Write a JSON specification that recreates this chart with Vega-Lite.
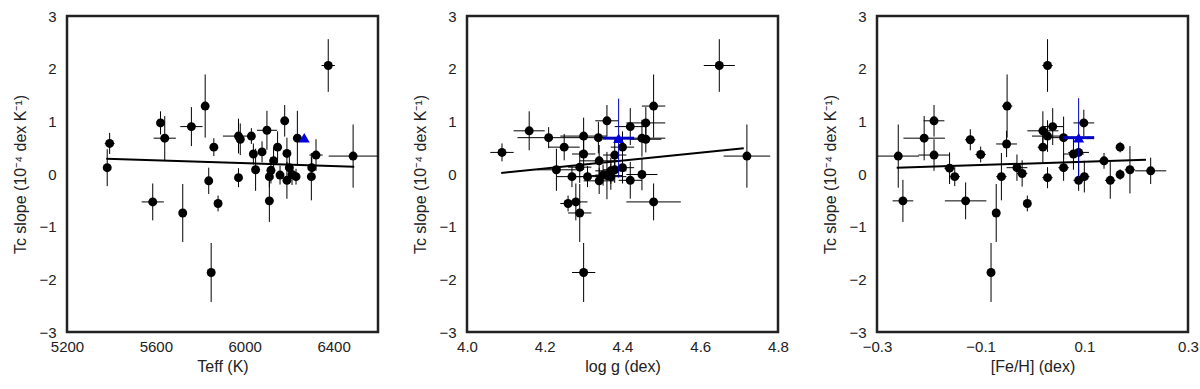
{
  "$schema": "https://vega.github.io/schema/vega-lite/v6.json",
  "padding": {"left": 11, "top": 7, "right": 5, "bottom": 5},
  "spacing": 31,
  "background": "white",
  "config": {
    "font": "Liberation Sans",
    "axis": {"labelFont": "Liberation Sans", "labelFontSize": 15, "titleFont": "Liberation Sans", "titleFontSize": 16, "titleFontWeight": "normal", "labelColor": "#222", "titleColor": "#222", "ticks": false, "domain": false, "grid": false, "labelFlush": false, "labelOverlap": false, "labelBound": false},
    "view": {"stroke": "#222", "strokeWidth": 2.5}
  },
  "datasets": {
    "teff": [
      {"k": "s", "x": 6376, "xe": 30, "y": 2.06, "ye": 0.5},
      {"k": "s", "x": 5822, "xe": 15, "y": 1.29, "ye": 0.6},
      {"k": "s", "x": 5621, "xe": 15, "y": 0.97, "ye": 0.22},
      {"k": "s", "x": 5640, "xe": 50, "y": 0.68, "ye": 0.42},
      {"k": "s", "x": 5760, "xe": 50, "y": 0.9, "ye": 0.37},
      {"k": "s", "x": 5392, "xe": 22, "y": 0.58, "ye": 0.2},
      {"k": "s", "x": 5381, "xe": 15, "y": 0.12, "ye": 0.35},
      {"k": "s", "x": 5861, "xe": 15, "y": 0.51, "ye": 0.17},
      {"k": "s", "x": 5972, "xe": 70, "y": 0.72, "ye": 0.33},
      {"k": "s", "x": 5980, "xe": 15, "y": 0.66, "ye": 0.3},
      {"k": "s", "x": 6030, "xe": 15, "y": 0.72, "ye": 0.15},
      {"k": "s", "x": 6100, "xe": 45, "y": 0.83, "ye": 0.37},
      {"k": "s", "x": 6180, "xe": 15, "y": 1.01, "ye": 0.3},
      {"k": "s", "x": 6148, "xe": 15, "y": 0.51, "ye": 0.3},
      {"k": "s", "x": 6039, "xe": 15, "y": 0.38, "ye": 0.2},
      {"k": "s", "x": 6078, "xe": 15, "y": 0.42, "ye": 0.2},
      {"k": "s", "x": 6190, "xe": 15, "y": 0.39, "ye": 0.3},
      {"k": "s", "x": 6130, "xe": 15, "y": 0.25, "ye": 0.25},
      {"k": "s", "x": 6237, "xe": 15, "y": 0.68, "ye": 0.52},
      {"k": "s", "x": 6321, "xe": 30, "y": 0.36, "ye": 0.3},
      {"k": "s", "x": 6488, "xe": 110, "y": 0.34, "ye": 0.6},
      {"k": "s", "x": 6302, "xe": 15, "y": 0.12, "ye": 0.2},
      {"k": "s", "x": 6201, "xe": 15, "y": 0.12, "ye": 0.2},
      {"k": "s", "x": 6049, "xe": 15, "y": 0.08, "ye": 0.4},
      {"k": "s", "x": 6118, "xe": 15, "y": 0.07, "ye": 0.25},
      {"k": "s", "x": 5838, "xe": 15, "y": -0.13, "ye": 0.25},
      {"k": "s", "x": 5972, "xe": 15, "y": -0.07, "ye": 0.18},
      {"k": "s", "x": 6111, "xe": 15, "y": -0.05, "ye": 0.2},
      {"k": "s", "x": 6159, "xe": 15, "y": -0.02, "ye": 0.18},
      {"k": "s", "x": 6190, "xe": 15, "y": -0.12, "ye": 0.35},
      {"k": "s", "x": 6231, "xe": 15, "y": -0.05, "ye": 0.15},
      {"k": "s", "x": 6213, "xe": 15, "y": -0.01, "ye": 0.2},
      {"k": "s", "x": 6300, "xe": 15, "y": -0.05, "ye": 0.45},
      {"k": "s", "x": 5586, "xe": 50, "y": -0.53, "ye": 0.35},
      {"k": "s", "x": 5721, "xe": 15, "y": -0.74, "ye": 0.55},
      {"k": "s", "x": 5880, "xe": 15, "y": -0.56, "ye": 0.15},
      {"k": "s", "x": 6111, "xe": 15, "y": -0.51, "ye": 0.4},
      {"k": "s", "x": 5849, "xe": 15, "y": -1.87, "ye": 0.56},
      {"k": "b", "x": 6268, "xe": 0, "y": 0.69, "ye": 0},
      {"k": "f", "x": 5377, "y": 0.29},
      {"k": "f", "x": 6493, "y": 0.14}
    ],
    "logg": [
      {"k": "s", "x": 4.649, "xe": 0.04, "y": 2.06, "ye": 0.5},
      {"k": "s", "x": 4.48, "xe": 0.03, "y": 1.29, "ye": 0.6},
      {"k": "s", "x": 4.36, "xe": 0.03, "y": 1.01, "ye": 0.3},
      {"k": "s", "x": 4.42, "xe": 0.04, "y": 0.9, "ye": 0.35},
      {"k": "s", "x": 4.46, "xe": 0.05, "y": 0.97, "ye": 0.3},
      {"k": "s", "x": 4.16, "xe": 0.04, "y": 0.82, "ye": 0.37},
      {"k": "s", "x": 4.21, "xe": 0.08, "y": 0.69, "ye": 0.2},
      {"k": "s", "x": 4.3, "xe": 0.06, "y": 0.72, "ye": 0.35},
      {"k": "s", "x": 4.338, "xe": 0.05, "y": 0.69, "ye": 0.3},
      {"k": "s", "x": 4.45, "xe": 0.06, "y": 0.68, "ye": 0.35},
      {"k": "s", "x": 4.46, "xe": 0.04, "y": 0.66, "ye": 0.25},
      {"k": "s", "x": 4.4, "xe": 0.03, "y": 0.51, "ye": 0.3},
      {"k": "s", "x": 4.09, "xe": 0.03, "y": 0.41, "ye": 0.17},
      {"k": "s", "x": 4.25, "xe": 0.04, "y": 0.51, "ye": 0.25},
      {"k": "s", "x": 4.3, "xe": 0.03, "y": 0.38, "ye": 0.3},
      {"k": "s", "x": 4.38, "xe": 0.03, "y": 0.36, "ye": 0.3},
      {"k": "s", "x": 4.34, "xe": 0.05, "y": 0.25, "ye": 0.3},
      {"k": "s", "x": 4.29, "xe": 0.03, "y": 0.13, "ye": 0.3},
      {"k": "s", "x": 4.4, "xe": 0.03, "y": 0.12, "ye": 0.3},
      {"k": "s", "x": 4.37, "xe": 0.04, "y": 0.06, "ye": 0.25},
      {"k": "s", "x": 4.23, "xe": 0.05, "y": 0.08, "ye": 0.4},
      {"k": "s", "x": 4.72, "xe": 0.06, "y": 0.34, "ye": 0.6},
      {"k": "s", "x": 4.27, "xe": 0.04, "y": -0.05, "ye": 0.2},
      {"k": "s", "x": 4.31, "xe": 0.03, "y": -0.05, "ye": 0.2},
      {"k": "s", "x": 4.34, "xe": 0.04, "y": -0.13, "ye": 0.25},
      {"k": "s", "x": 4.37, "xe": 0.04, "y": -0.05, "ye": 0.25},
      {"k": "s", "x": 4.36, "xe": 0.04, "y": -0.03, "ye": 0.45},
      {"k": "s", "x": 4.42, "xe": 0.03, "y": -0.12, "ye": 0.35},
      {"k": "s", "x": 4.45, "xe": 0.04, "y": -0.01, "ye": 0.3},
      {"k": "s", "x": 4.35, "xe": 0.02, "y": -0.02, "ye": 0.2},
      {"k": "s", "x": 4.38, "xe": 0.03, "y": 0.08, "ye": 0.25},
      {"k": "s", "x": 4.26, "xe": 0.02, "y": -0.56, "ye": 0.15},
      {"k": "s", "x": 4.28, "xe": 0.03, "y": -0.53, "ye": 0.35},
      {"k": "s", "x": 4.29, "xe": 0.03, "y": -0.74, "ye": 0.55},
      {"k": "s", "x": 4.48, "xe": 0.07, "y": -0.53, "ye": 0.35},
      {"k": "s", "x": 4.3, "xe": 0.03, "y": -1.87, "ye": 0.56},
      {"k": "b", "x": 4.39, "xe": 0.04, "y": 0.68, "ye": 0.75},
      {"k": "f", "x": 4.088, "y": 0.02},
      {"k": "f", "x": 4.712, "y": 0.49}
    ],
    "feh": [
      {"k": "s", "x": 0.029, "xe": 0.01, "y": 2.06, "ye": 0.5},
      {"k": "s", "x": -0.049, "xe": 0.01, "y": 1.29, "ye": 0.6},
      {"k": "s", "x": -0.19, "xe": 0.02, "y": 1.01, "ye": 0.3},
      {"k": "s", "x": -0.209, "xe": 0.04, "y": 0.68, "ye": 0.42},
      {"k": "s", "x": -0.19, "xe": 0.03, "y": 0.36, "ye": 0.3},
      {"k": "s", "x": -0.259, "xe": 0.04, "y": 0.34, "ye": 0.6},
      {"k": "s", "x": -0.12, "xe": 0.01, "y": 0.65, "ye": 0.2},
      {"k": "s", "x": -0.1, "xe": 0.01, "y": 0.37, "ye": 0.15},
      {"k": "s", "x": -0.16, "xe": 0.01, "y": 0.11, "ye": 0.3},
      {"k": "s", "x": -0.05, "xe": 0.02, "y": 0.57, "ye": 0.25},
      {"k": "s", "x": 0.02, "xe": 0.03, "y": 0.82, "ye": 0.37},
      {"k": "s", "x": 0.039, "xe": 0.02, "y": 0.9, "ye": 0.35},
      {"k": "s", "x": 0.029, "xe": 0.03, "y": 0.72, "ye": 0.3},
      {"k": "s", "x": 0.06, "xe": 0.04, "y": 0.69, "ye": 0.4},
      {"k": "s", "x": 0.099, "xe": 0.02, "y": 0.97, "ye": 0.25},
      {"k": "s", "x": 0.02, "xe": 0.01, "y": 0.51, "ye": 0.3},
      {"k": "s", "x": 0.079, "xe": 0.02, "y": 0.38, "ye": 0.3},
      {"k": "s", "x": 0.089, "xe": 0.02, "y": 0.41, "ye": 0.35},
      {"k": "s", "x": 0.06, "xe": 0.01, "y": 0.12, "ye": 0.25},
      {"k": "s", "x": -0.03, "xe": 0.02, "y": 0.12, "ye": 0.25},
      {"k": "s", "x": 0.169, "xe": 0.005, "y": 0.51, "ye": 0.1},
      {"k": "s", "x": 0.138, "xe": 0.01, "y": 0.25, "ye": 0.15},
      {"k": "s", "x": 0.188, "xe": 0.01, "y": 0.08, "ye": 0.45},
      {"k": "s", "x": 0.228, "xe": 0.03, "y": 0.06, "ye": 0.25},
      {"k": "s", "x": -0.15, "xe": 0.01, "y": -0.05, "ye": 0.18},
      {"k": "s", "x": -0.06, "xe": 0.01, "y": -0.05, "ye": 0.45},
      {"k": "s", "x": -0.02, "xe": 0.01, "y": 0.01, "ye": 0.25},
      {"k": "s", "x": 0.029, "xe": 0.01, "y": -0.07, "ye": 0.2},
      {"k": "s", "x": 0.089, "xe": 0.01, "y": -0.12, "ye": 0.2},
      {"k": "s", "x": 0.1, "xe": 0.01, "y": -0.05, "ye": 0.3},
      {"k": "s", "x": 0.15, "xe": 0.01, "y": -0.12, "ye": 0.35},
      {"k": "s", "x": 0.169, "xe": 0.005, "y": -0.01, "ye": 0.1},
      {"k": "s", "x": -0.25, "xe": 0.02, "y": -0.51, "ye": 0.4},
      {"k": "s", "x": -0.129, "xe": 0.04, "y": -0.51, "ye": 0.35},
      {"k": "s", "x": -0.01, "xe": 0.005, "y": -0.56, "ye": 0.15},
      {"k": "s", "x": -0.07, "xe": 0.005, "y": -0.74, "ye": 0.55},
      {"k": "s", "x": -0.08, "xe": 0.005, "y": -1.87, "ye": 0.56},
      {"k": "b", "x": 0.089, "xe": 0.03, "y": 0.69, "ye": 0.75},
      {"k": "f", "x": -0.262, "y": 0.12},
      {"k": "f", "x": 0.219, "y": 0.27}
    ],
    "yticks": [{"y": -2}, {"y": -1}, {"y": 0}, {"y": 1}, {"y": 2}],
    "xt1": [{"x": 5600}, {"x": 6000}, {"x": 6400}],
    "xt2": [{"x": 4.2}, {"x": 4.4}, {"x": 4.6}],
    "xt3": [{"x": -0.1}, {"x": 0.1}]
  },
  "hconcat": [
    {
      "width": 311, "height": 316,
      "data": {"name": "teff"},
      "encoding": {
        "x": {"field": "x", "type": "quantitative", "scale": {"domain": [5200, 6600], "nice": false, "zero": false},
              "axis": {"orient": "bottom", "values": [5200, 5600, 6000, 6400], "format": "d", "labelPadding": 7, "title": "Teff (K)", "titlePadding": 4}},
        "y": {"field": "y", "type": "quantitative", "scale": {"domain": [-3, 3], "nice": false},
              "axis": {"orient": "left", "values": [-3, -2, -1, 0, 1, 2, 3], "labelPadding": 11, "title": "Tc slope (10⁻⁴ dex K⁻¹)", "titlePadding": 10, "labelExpr": "replace(datum.label, '-', '−')"}}
      },
      "layer": [
        {"data": {"name": "xt1"}, "mark": {"type": "rule", "strokeWidth": 2.5, "color": "#111", "opacity": 1}, "encoding": {"y": {"datum": -3}, "y2": {"datum": -2.85}}},
        {"data": {"name": "xt1"}, "mark": {"type": "rule", "strokeWidth": 2.5, "color": "#111", "opacity": 1}, "encoding": {"y": {"datum": 3}, "y2": {"datum": 2.85}}},
        {"data": {"name": "yticks"}, "mark": {"type": "rule", "strokeWidth": 2.5, "color": "#111", "opacity": 1}, "encoding": {"x": {"datum": 5200}, "x2": {"datum": 5236}}},
        {"data": {"name": "yticks"}, "mark": {"type": "rule", "strokeWidth": 2.5, "color": "#111", "opacity": 1}, "encoding": {"x": {"datum": 6600}, "x2": {"datum": 6564}}},
        {"transform": [{"filter": "datum.k == 's'"}], "mark": {"type": "errorbar", "color": "black", "thickness": 1}, "encoding": {"yError": {"field": "ye"}}},
        {"transform": [{"filter": "datum.k == 's'"}], "mark": {"type": "errorbar", "color": "black", "thickness": 1}, "encoding": {"xError": {"field": "xe"}}},
        {"transform": [{"filter": "datum.k == 's'"}], "mark": {"type": "circle", "color": "black", "size": 80, "opacity": 1}, "encoding": {}},
        {"transform": [{"filter": "datum.k == 'f'"}], "mark": {"type": "line", "color": "black", "strokeWidth": 2}, "encoding": {}},
        {"transform": [{"filter": "datum.k == 'b'"}], "mark": {"type": "point", "shape": "triangle-up", "filled": true, "color": "#0000e0", "size": 120, "opacity": 1}, "encoding": {}}
      ]
    },
    {
      "width": 311, "height": 316,
      "data": {"name": "logg"},
      "encoding": {
        "x": {"field": "x", "type": "quantitative", "scale": {"domain": [4.0, 4.8], "nice": false, "zero": false},
              "axis": {"orient": "bottom", "values": [4.0, 4.2, 4.4, 4.6, 4.8], "format": ".1f", "labelPadding": 7, "title": "log g (dex)", "titlePadding": 4}},
        "y": {"field": "y", "type": "quantitative", "scale": {"domain": [-3, 3], "nice": false},
              "axis": {"orient": "left", "values": [-3, -2, -1, 0, 1, 2, 3], "labelPadding": 11, "title": "Tc slope (10⁻⁴ dex K⁻¹)", "titlePadding": 10, "labelExpr": "replace(datum.label, '-', '−')"}}
      },
      "layer": [
        {"data": {"name": "xt2"}, "mark": {"type": "rule", "strokeWidth": 2.5, "color": "#111", "opacity": 1}, "encoding": {"y": {"datum": -3}, "y2": {"datum": -2.85}}},
        {"data": {"name": "xt2"}, "mark": {"type": "rule", "strokeWidth": 2.5, "color": "#111", "opacity": 1}, "encoding": {"y": {"datum": 3}, "y2": {"datum": 2.85}}},
        {"data": {"name": "yticks"}, "mark": {"type": "rule", "strokeWidth": 2.5, "color": "#111", "opacity": 1}, "encoding": {"x": {"datum": 4.0}, "x2": {"datum": 4.0205}}},
        {"data": {"name": "yticks"}, "mark": {"type": "rule", "strokeWidth": 2.5, "color": "#111", "opacity": 1}, "encoding": {"x": {"datum": 4.8}, "x2": {"datum": 4.7795}}},
        {"transform": [{"filter": "datum.k == 's'"}], "mark": {"type": "errorbar", "color": "black", "thickness": 1}, "encoding": {"yError": {"field": "ye"}}},
        {"transform": [{"filter": "datum.k == 's'"}], "mark": {"type": "errorbar", "color": "black", "thickness": 1}, "encoding": {"xError": {"field": "xe"}}},
        {"transform": [{"filter": "datum.k == 's'"}], "mark": {"type": "circle", "color": "black", "size": 80, "opacity": 1}, "encoding": {}},
        {"transform": [{"filter": "datum.k == 'f'"}], "mark": {"type": "line", "color": "black", "strokeWidth": 2}, "encoding": {}},
        {"transform": [{"filter": "datum.k == 'b'"}], "mark": {"type": "errorbar", "color": "#0000c0", "thickness": 1}, "encoding": {"yError": {"field": "ye"}}},
        {"transform": [{"filter": "datum.k == 'b'"}], "mark": {"type": "errorbar", "color": "#0000c0", "thickness": 3}, "encoding": {"xError": {"field": "xe"}}},
        {"transform": [{"filter": "datum.k == 'b'"}], "mark": {"type": "point", "shape": "triangle-up", "filled": true, "color": "#0000e0", "size": 120, "opacity": 1}, "encoding": {}}
      ]
    },
    {
      "width": 311, "height": 316,
      "data": {"name": "feh"},
      "encoding": {
        "x": {"field": "x", "type": "quantitative", "scale": {"domain": [-0.3, 0.3], "nice": false, "zero": false},
              "axis": {"orient": "bottom", "values": [-0.3, -0.1, 0.1, 0.3], "format": ".1f", "labelPadding": 7, "title": "[Fe/H] (dex)", "titlePadding": 4, "labelExpr": "replace(datum.label, '-', '−')"}},
        "y": {"field": "y", "type": "quantitative", "scale": {"domain": [-3, 3], "nice": false},
              "axis": {"orient": "left", "values": [-3, -2, -1, 0, 1, 2, 3], "labelPadding": 11, "title": "Tc slope (10⁻⁴ dex K⁻¹)", "titlePadding": 10, "labelExpr": "replace(datum.label, '-', '−')"}}
      },
      "layer": [
        {"data": {"name": "xt3"}, "mark": {"type": "rule", "strokeWidth": 2.5, "color": "#111", "opacity": 1}, "encoding": {"y": {"datum": -3}, "y2": {"datum": -2.85}}},
        {"data": {"name": "xt3"}, "mark": {"type": "rule", "strokeWidth": 2.5, "color": "#111", "opacity": 1}, "encoding": {"y": {"datum": 3}, "y2": {"datum": 2.85}}},
        {"data": {"name": "yticks"}, "mark": {"type": "rule", "strokeWidth": 2.5, "color": "#111", "opacity": 1}, "encoding": {"x": {"datum": -0.3}, "x2": {"datum": -0.2846}}},
        {"data": {"name": "yticks"}, "mark": {"type": "rule", "strokeWidth": 2.5, "color": "#111", "opacity": 1}, "encoding": {"x": {"datum": 0.3}, "x2": {"datum": 0.2846}}},
        {"transform": [{"filter": "datum.k == 's'"}], "mark": {"type": "errorbar", "color": "black", "thickness": 1}, "encoding": {"yError": {"field": "ye"}}},
        {"transform": [{"filter": "datum.k == 's'"}], "mark": {"type": "errorbar", "color": "black", "thickness": 1}, "encoding": {"xError": {"field": "xe"}}},
        {"transform": [{"filter": "datum.k == 's'"}], "mark": {"type": "circle", "color": "black", "size": 80, "opacity": 1}, "encoding": {}},
        {"transform": [{"filter": "datum.k == 'f'"}], "mark": {"type": "line", "color": "black", "strokeWidth": 2}, "encoding": {}},
        {"transform": [{"filter": "datum.k == 'b'"}], "mark": {"type": "errorbar", "color": "#0000c0", "thickness": 1}, "encoding": {"yError": {"field": "ye"}}},
        {"transform": [{"filter": "datum.k == 'b'"}], "mark": {"type": "errorbar", "color": "#0000c0", "thickness": 3}, "encoding": {"xError": {"field": "xe"}}},
        {"transform": [{"filter": "datum.k == 'b'"}], "mark": {"type": "point", "shape": "triangle-up", "filled": true, "color": "#0000e0", "size": 120, "opacity": 1}, "encoding": {}}
      ]
    }
  ]
}
